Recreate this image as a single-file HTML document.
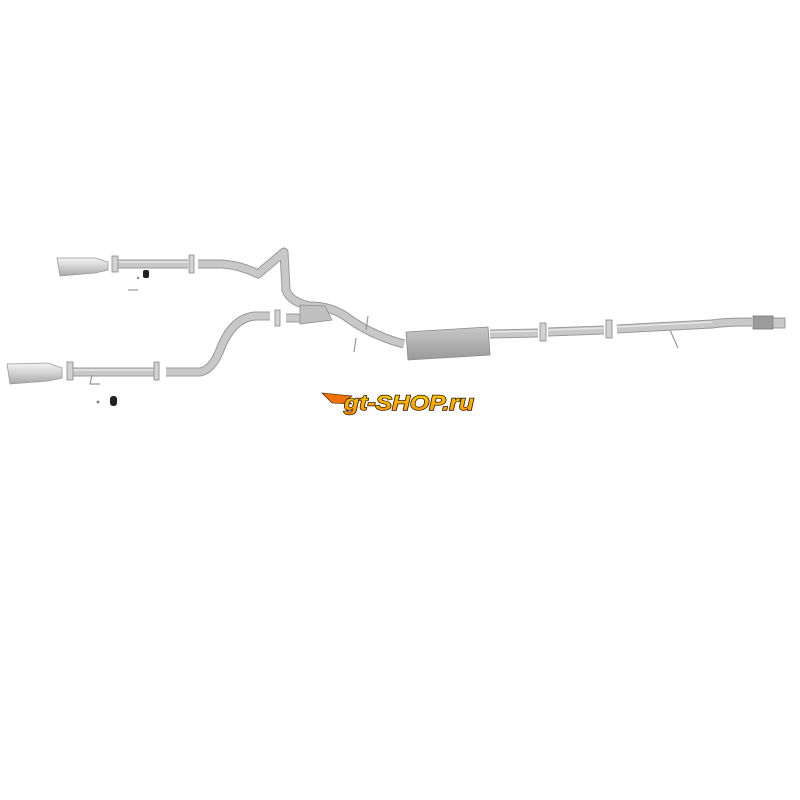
<!DOCTYPE html>
<html><head><meta charset="utf-8"><style>
html,body{margin:0;padding:0;background:#fff;width:800px;height:800px;overflow:hidden}
</style></head><body>
<svg width="800" height="800" viewBox="0 0 800 800" xmlns="http://www.w3.org/2000/svg">
<defs>
<linearGradient id="tip" x1="0" y1="0" x2="0" y2="1">
<stop offset="0" stop-color="#f4f4f4"/><stop offset="0.4" stop-color="#d8d8d8"/><stop offset="1" stop-color="#a8a8a8"/></linearGradient>
<linearGradient id="muf" x1="0" y1="0" x2="0" y2="1">
<stop offset="0" stop-color="#c8c8c8"/><stop offset="0.5" stop-color="#b0b0b0"/><stop offset="1" stop-color="#9a9a9a"/></linearGradient>
<linearGradient id="logo" x1="0" y1="0" x2="0" y2="1">
<stop offset="0" stop-color="#ffd200"/><stop offset="1" stop-color="#ff8a00"/></linearGradient>
</defs>
<g fill="none" stroke-linecap="butt" stroke-linejoin="round">
<g stroke="#999" stroke-width="9">
<path d="M112 264 L188 264"/>
<path d="M198 264 L222 264 Q240 265 258 274 L284 252 L286 290 Q290 302 310 306 Q330 306 345 316 Q370 335 404 344"/>
<path d="M68 372 L158 372"/>
<path d="M166 372 L200 372 Q212 370 220 350 Q232 318 255 316 L270 316"/>
<path d="M286 318 L305 318 L330 316"/>
<path d="M490 334 L538 333"/>
<path d="M548 332 L604 330"/>
<path d="M617 329 L712 324 Q725 322 752 322"/>
</g>
<g stroke="#c8c8c8" stroke-width="7">
<path d="M112 264 L188 264"/>
<path d="M198 264 L222 264 Q240 265 258 274 L284 252 L286 290 Q290 302 310 306 Q330 306 345 316 Q370 335 404 344"/>
<path d="M68 372 L158 372"/>
<path d="M166 372 L200 372 Q212 370 220 350 Q232 318 255 316 L270 316"/>
<path d="M286 318 L305 318 L330 316"/>
<path d="M490 334 L538 333"/>
<path d="M548 332 L604 330"/>
<path d="M617 329 L712 324 Q725 322 752 322"/>
</g>
<g stroke="#e6e6e6" stroke-width="1.5">
<path d="M112 262 L188 262"/><path d="M68 370 L158 370"/><path d="M490 332 L538 331"/><path d="M548 330 L604 328"/><path d="M617 327 L712 322"/>
</g>
</g>
<path d="M57 258 L95 258 L108 262 L108 270 L95 273 L60 276 Z" fill="url(#tip)" stroke="#999" stroke-width="0.8"/>
<path d="M7 364 L48 363 L62 368 L62 378 L48 381 L10 384 Z" fill="url(#tip)" stroke="#999" stroke-width="0.8"/>
<g fill="#d2d2d2" stroke="#888" stroke-width="0.8">
<rect x="112" y="256" width="6" height="16"/><rect x="189" y="255" width="5" height="18"/>
<rect x="67" y="362" width="6" height="18"/><rect x="154" y="362" width="5" height="18"/>
<rect x="275" y="310" width="5" height="16"/><rect x="540" y="323" width="6" height="18"/>
<rect x="606" y="320" width="6" height="18"/>
</g>
<path d="M300 305 L325 306 L332 320 L300 324 Z" fill="#c0c0c0" stroke="#8e8e8e" stroke-width="0.8"/>
<path d="M406 332 L488 327 L490 355 L408 360 Z" fill="url(#muf)" stroke="#8a8a8a" stroke-width="0.8"/>
<rect x="753" y="316" width="20" height="13" fill="#9c9c9c" stroke="#777" stroke-width="0.8"/>
<rect x="773" y="318" width="12" height="10" fill="#c8c8c8" stroke="#888" stroke-width="0.8"/>
<g stroke="#999" stroke-width="1.2" fill="none">
<path d="M368 316 L366 330"/><path d="M356 338 L354 352"/><path d="M670 330 L678 348"/>
<path d="M128 290 L138 290"/><path d="M92 375 L90 384 L100 384"/>
</g>
<rect x="143" y="270" width="6" height="8" rx="2" fill="#222"/>
<rect x="110" y="396" width="7" height="10" rx="3" fill="#222"/>
<circle cx="98" cy="402" r="1.5" fill="#888"/><circle cx="138" cy="278" r="1.2" fill="#888"/>
<path d="M322 393 L352 396 L346 400 L352 404 L332 403 Z" fill="#f07000" stroke="#2a1500" stroke-width="0.6"/>
<text x="344" y="410" font-family="Liberation Sans, sans-serif" font-weight="bold" font-style="italic" font-size="21" fill="url(#logo)" stroke="#2a1500" stroke-width="1.4" paint-order="stroke" textLength="130" lengthAdjust="spacingAndGlyphs">gt-SHOP.ru</text>
</svg>
</body></html>
